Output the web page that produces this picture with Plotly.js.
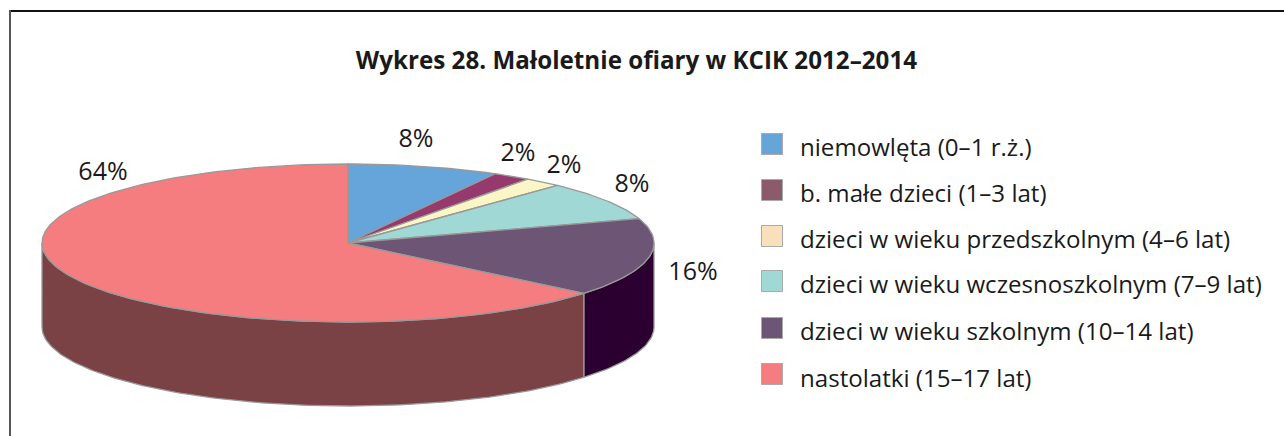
<!DOCTYPE html>
<html><head><meta charset="utf-8">
<script src="https://cdn.plot.ly/plotly-3.0.1.min.js"></script>
<style>html,body{margin:0;padding:0;background:#fff}#c{width:1284px;height:436px}</style>
</head><body><div id="c"></div>
<script>
var categories = ['niemowlęta (0–1 r.ż.)','b. małe dzieci (1–3 lat)','dzieci w wieku przedszkolnym (4–6 lat)','dzieci w wieku wczesnoszkolnym (7–9 lat)','dzieci w wieku szkolnym (10–14 lat)','nastolatki (15–17 lat)'];
var values = [8,2,2,8,16,64];
var sliceColors = ['#66A5D9','#963A6E','#FBF6C5','#9FD8D5','#6D5675','#F57D80'];
var sideColors = [null,null,null,null,'#2B0030','#7A4244'];
var legendColors = ['#66A5D9','#8B5B6B','#F8E0BA','#9FD8D5','#6D5675','#F57D80'];
var labelX = [416,518,564,632,693,103];
var labelY = [141,155,167,186,274,174];
var legendY = [144,190,236,281,328,374];
var legendTextY = [150,196,242,287,334,381];

var CX=348, CY=243, RX=306, RY=79, DEPTH=84, EDGE='#999999';
function pt(a,dy){var r=a*Math.PI/180;return [CX+RX*Math.sin(r),CY-RY*Math.cos(r)+(dy||0)];}
function arc(a0,a1,dy){var n=Math.max(2,Math.ceil(Math.abs(a1-a0)));var o=[];for(var i=0;i<=n;i++){o.push(pt(a0+(a1-a0)*i/n,dy));}return o;}
function poly(p,fill,w){return {type:'scatter',mode:'lines',x:p.map(function(q){return q[0]}),y:p.map(function(q){return q[1]}),fill:'toself',fillcolor:fill,line:{color:EDGE,width:w===undefined?1.3:w},hoverinfo:'skip',showlegend:false};}

var traces=[];
var total=values.reduce(function(a,b){return a+b},0);
var cum=0, wedges=[];
values.forEach(function(v,i){var a0=cum/total*360;cum+=v;var a1=cum/total*360;wedges.push([a0,a1]);});
wedges.forEach(function(w,i){
  var s=Math.max(w[0],90), e=Math.min(w[1],270);
  if(e>s && sideColors[i]){
    var top=arc(s,e,0), bot=arc(e,s,DEPTH);
    var p=top.concat(bot); p.push(top[0]);
    traces.push(poly(p,sideColors[i]));
  }
});
wedges.forEach(function(w,i){
  var p=[[CX,CY]].concat(arc(w[0],w[1],0)); p.push([CX,CY]);
  traces.push(poly(p,sliceColors[i]));
});
traces.push({type:'scatter',mode:'text',x:labelX,y:labelY,text:values.map(function(v){return v+'%'}),textposition:'middle center',textfont:{family:'Open Sans',size:25,color:'#1a1a1a'},hoverinfo:'skip',showlegend:false});
traces.push({type:'scatter',mode:'markers',x:categories.map(function(){return 772}),y:legendY,marker:{symbol:'square',size:21,color:legendColors,line:{color:'#aaaaaa',width:1}},hoverinfo:'skip',showlegend:false});
traces.push({type:'scatter',mode:'text',x:categories.map(function(){return 800}),y:legendTextY,text:categories,textposition:'middle right',textfont:{family:'Open Sans',size:24.1,color:'#1a1a1a'},hoverinfo:'skip',showlegend:false});

var layout={width:1284,height:436,margin:{l:0,r:0,t:0,b:0},paper_bgcolor:'#fff',plot_bgcolor:'#fff',showlegend:false,
 xaxis:{range:[0,1284],visible:false,fixedrange:true},
 yaxis:{range:[436,0],visible:false,fixedrange:true},
 title:{text:'<b>Wykres 28. Małoletnie ofiary w KCIK 2012–2014</b>',font:{family:'Open Sans',size:24.2,color:'#1a1a1a'},x:0.4957,xanchor:'center',y:0.862,yanchor:'middle'},
 shapes:[
  {type:'line',xref:'paper',yref:'paper',x0:9/1284,x1:1,y0:1-11/436,y1:1-11/436,line:{color:'#111',width:2}},
  {type:'line',xref:'paper',yref:'paper',x0:10/1284,x1:10/1284,y0:1-10/436,y1:0,line:{color:'#555',width:2}}
 ]};
Plotly.newPlot('c',traces,layout,{displayModeBar:false,staticPlot:true});
</script></body></html>
